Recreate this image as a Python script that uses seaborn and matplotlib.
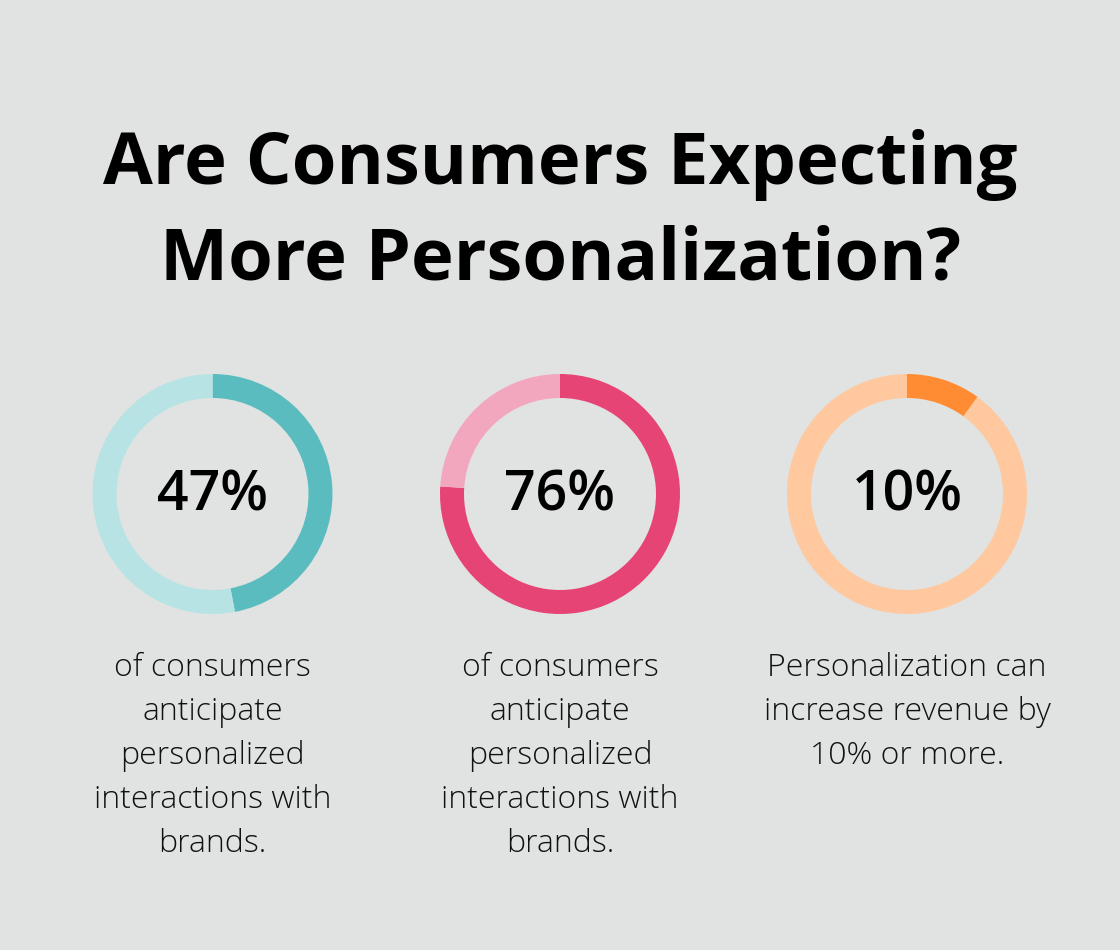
import matplotlib
matplotlib.use("Agg")
import matplotlib.pyplot as plt
import seaborn as sns

# Data
title_lines = ["Are Consumers Expecting", "More Personalization?"]
values = [47, 76, 10]
labels = ["47%", "76%", "10%"]
descriptions = [
    "of consumers\nanticipate\npersonalized\ninteractions with\nbrands.",
    "of consumers\nanticipate\npersonalized\ninteractions with\nbrands.",
    "Personalization can\nincrease revenue by\n10% or more.",
]
dark_colors = ["#5BBCBF", "#E64475", "#FF8C33"]
light_colors = ["#B7E3E4", "#F2A7BF", "#FFC89E"]

BG = "#E1E3E2"
sns.set_theme(style="white")
plt.rcParams["font.family"] = ["Open Sans", "DejaVu Sans"]

W, H = 1120, 950
fig = plt.figure(figsize=(W / 100, H / 100), dpi=100, facecolor=BG)

# Title
fig.text(560 / W, 1 - 165 / H, title_lines[0], ha="center", va="center",
         fontsize=52, fontweight="bold", color="#000000")
fig.text(560 / W, 1 - 261 / H, title_lines[1], ha="center", va="center",
         fontsize=52, fontweight="bold", color="#000000")

centers_x = [212.5, 560, 907]
cy = 494
R = 120
for i, (v, lab, desc) in enumerate(zip(values, labels, descriptions)):
    cx = centers_x[i]
    ax = fig.add_axes([(cx - R) / W, 1 - (cy + R) / H, 2 * R / W, 2 * R / H])
    ax.set_facecolor(BG)
    ax.pie([v, 100 - v], colors=[dark_colors[i], light_colors[i]],
           startangle=90, counterclock=False, radius=1,
           wedgeprops=dict(width=24 / R, edgecolor="none", linewidth=0))
    ax.set_xlim(-1, 1)
    ax.set_ylim(-1, 1)
    ax.set_aspect("equal")
    ax.axis("off")
    ax.text(0, -0.02, lab, ha="center", va="center", fontsize=40,
            fontweight="semibold", color="#000000")
    fig.text(cx / W, 1 - 652 / H, desc, ha="center", va="top",
             fontsize=23, fontweight="light", color="#111111",
             linespacing=1.5)

fig.savefig("out.png", dpi=100, facecolor=BG)
